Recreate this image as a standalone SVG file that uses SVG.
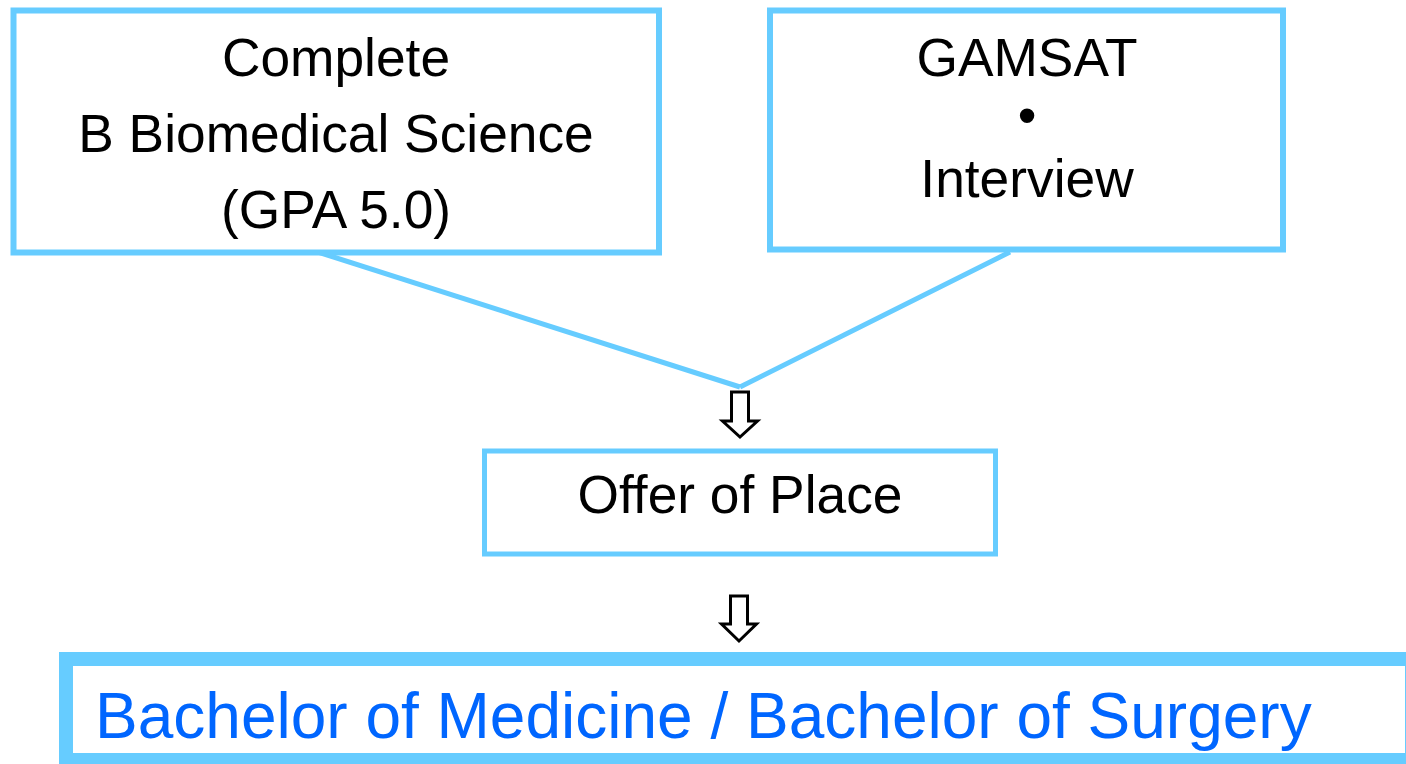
<svg xmlns="http://www.w3.org/2000/svg" width="1406" height="764" viewBox="0 0 1406 764">
<style>
.box{fill:#fff;stroke:#66CCFF;stroke-width:6}
.t{font-family:"Liberation Sans",Arial,sans-serif;font-size:53.3px;fill:#000;text-anchor:middle}
.conn{stroke:#66CCFF;stroke-width:5;fill:none}
.arr{fill:#fff;stroke:#000;stroke-width:3;stroke-linejoin:miter}
</style>
<rect width="1406" height="764" fill="#fff"/>
<g id="connectors">
<line class="conn" x1="318" y1="252" x2="740" y2="387"/>
<line class="conn" x1="1010" y1="252" x2="740" y2="387"/>
<path class="arr" d="M731.5 392 H748.5 V421 H757.5 L740 437 L722.5 421 H731.5 Z"/>
<path class="arr" d="M730.5 596 H747.5 V624 H756.5 L739 641 L721.5 624 H730.5 Z"/>
</g>
<g id="node-biomed">
<rect class="box" x="13.5" y="10.5" width="645.5" height="242"/>
<text class="t" x="336" y="76">Complete</text>
<text class="t" x="336" y="152">B Biomedical Science</text>
<text class="t" x="336" y="228">(GPA 5.0)</text>
</g>
<g id="node-gamsat">
<rect class="box" x="770" y="10.5" width="513" height="239"/>
<text class="t" x="1027" y="76">GAMSAT</text>
<text class="t" x="1027" y="134">•</text>
<text class="t" x="1027" y="197">Interview</text>
</g>
<g id="node-offer">
<rect class="box" x="484.5" y="451" width="511" height="103" style="stroke-width:5"/>
<text class="t" x="740" y="513">Offer of Place</text>
</g>
<g id="node-degree">
<rect class="box" x="66" y="659" width="1346" height="101" style="stroke-width:14"/>
<text x="95" y="738" style="font-family:'Liberation Sans',Arial,sans-serif;font-size:64px;fill:#0066FF">Bachelor of Medicine / Bachelor of Surgery</text>
</g>
</svg>
